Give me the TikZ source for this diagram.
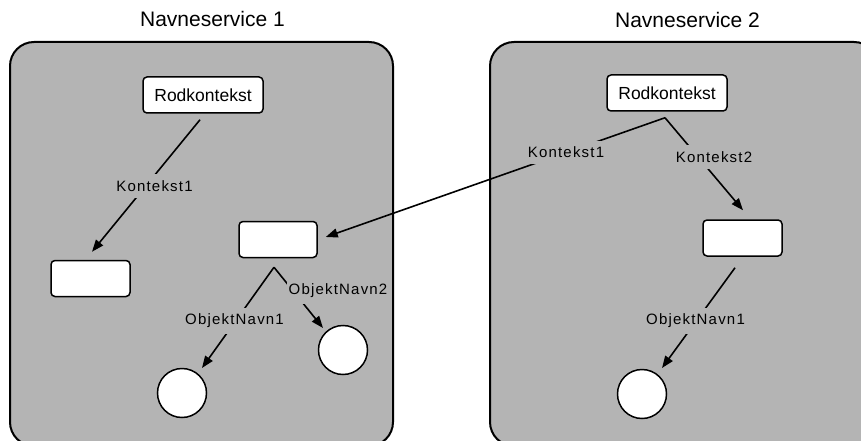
\documentclass[tikz,border=0pt]{standalone}
\usepackage{fontspec}
\setmainfont{Liberation Sans}
\usetikzlibrary{arrows.meta,calc}

\definecolor{panelgray}{RGB}{180,180,180}

\tikzset{
  panel/.style={draw=black, line width=2pt, fill=panelgray, rounded corners=24pt},
  title/.style={font=\fontsize{21}{25}\selectfont, anchor=base, inner sep=0pt},
  ctxbox/.style={draw=black, line width=1.5pt, fill=white, rounded corners=4pt,
                 minimum width=#1, minimum height=36pt, inner sep=0pt},
  objcircle/.style={draw=black, line width=1.5pt, fill=white, circle,
                    minimum size=49pt, inner sep=0pt},
  rootfont/.style={font=\fontsize{17.5}{21}\selectfont},
  link/.style={draw=black, line width=1.6pt},
  arrowlink/.style={link, -{Triangle[length=12pt,width=9pt]}},
  linklabel/.style={fill=panelgray, inner xsep=2pt, inner ysep=6pt,
                    font=\fontsize{15}{18}\selectfont\addfontfeature{LetterSpace=8}}
}

\begin{document}
\begin{tikzpicture}[x=1pt, y=-1pt]
  \useasboundingbox (0,0) rectangle (861,441);
  \clip (0,0) rectangle (861,441);

  % the two name services
  \draw[panel] (10,42) rectangle (393,446);
  \draw[panel] (490,42) rectangle (878,446);
  \node[title] (t1) at (212.5,27) {Navneservice 1};
  \node[title] (t2) at (687.5,28) {Navneservice 2};

  % contexts of name service 1
  \node[ctxbox=120pt, rootfont] (rod1) at (203,95) {Rodkontekst};
  \node[ctxbox=79pt] (boxA) at (90.5,278.5) {};
  \node[ctxbox=78pt] (boxB) at (278,239.5) {};
  \node[objcircle] (circ1) at (182,393) {};
  \node[objcircle] (circ2) at (343,350) {};

  % contexts of name service 2
  \node[ctxbox=120pt, rootfont] (rod2) at (667,93) {Rodkontekst};
  \node[ctxbox=79pt] (boxC) at (742.5,238) {};
  \node[objcircle] (circ3) at (642,394) {};

  % bindings
  \draw[arrowlink] ($(rod1.south)+(-3,6)$) -- ($(boxA.north)+(1.5,-8)$);
  \draw[arrowlink] ($(boxB.south)+(-4,9)$) -- ($(circ1.center)+(20,-25)$);
  \draw[arrowlink] ($(boxB.south)+(-4,9)$) -- ($(circ2.center)+(-20,-22)$);
  \draw[arrowlink] ($(rod2.south)+(-2,6)$) -- ($(boxB.east)+(8,-2.5)$);
  \draw[arrowlink] ($(rod2.south)+(-2,6)$) -- ($(boxC.north)+(0.5,-9)$);
  \draw[arrowlink] ($(boxC.south)+(-7.5,11)$) -- ($(circ3.center)+(20,-26)$);

  % binding names
  \node[linklabel] (l1) at (154.5,186) {Kontekst1};
  \node[linklabel] (l2) at (234.5,321) {ObjektNavn1};
  \node[linklabel] (l3) at (338,291) {ObjektNavn2};
  \node[linklabel] (l4) at (566,152.5) {Kontekst1};
  \node[linklabel] (l5) at (714,157) {Kontekst2};
  \node[linklabel] (l6) at (695.5,321) {ObjektNavn1};
\end{tikzpicture}
\end{document}
